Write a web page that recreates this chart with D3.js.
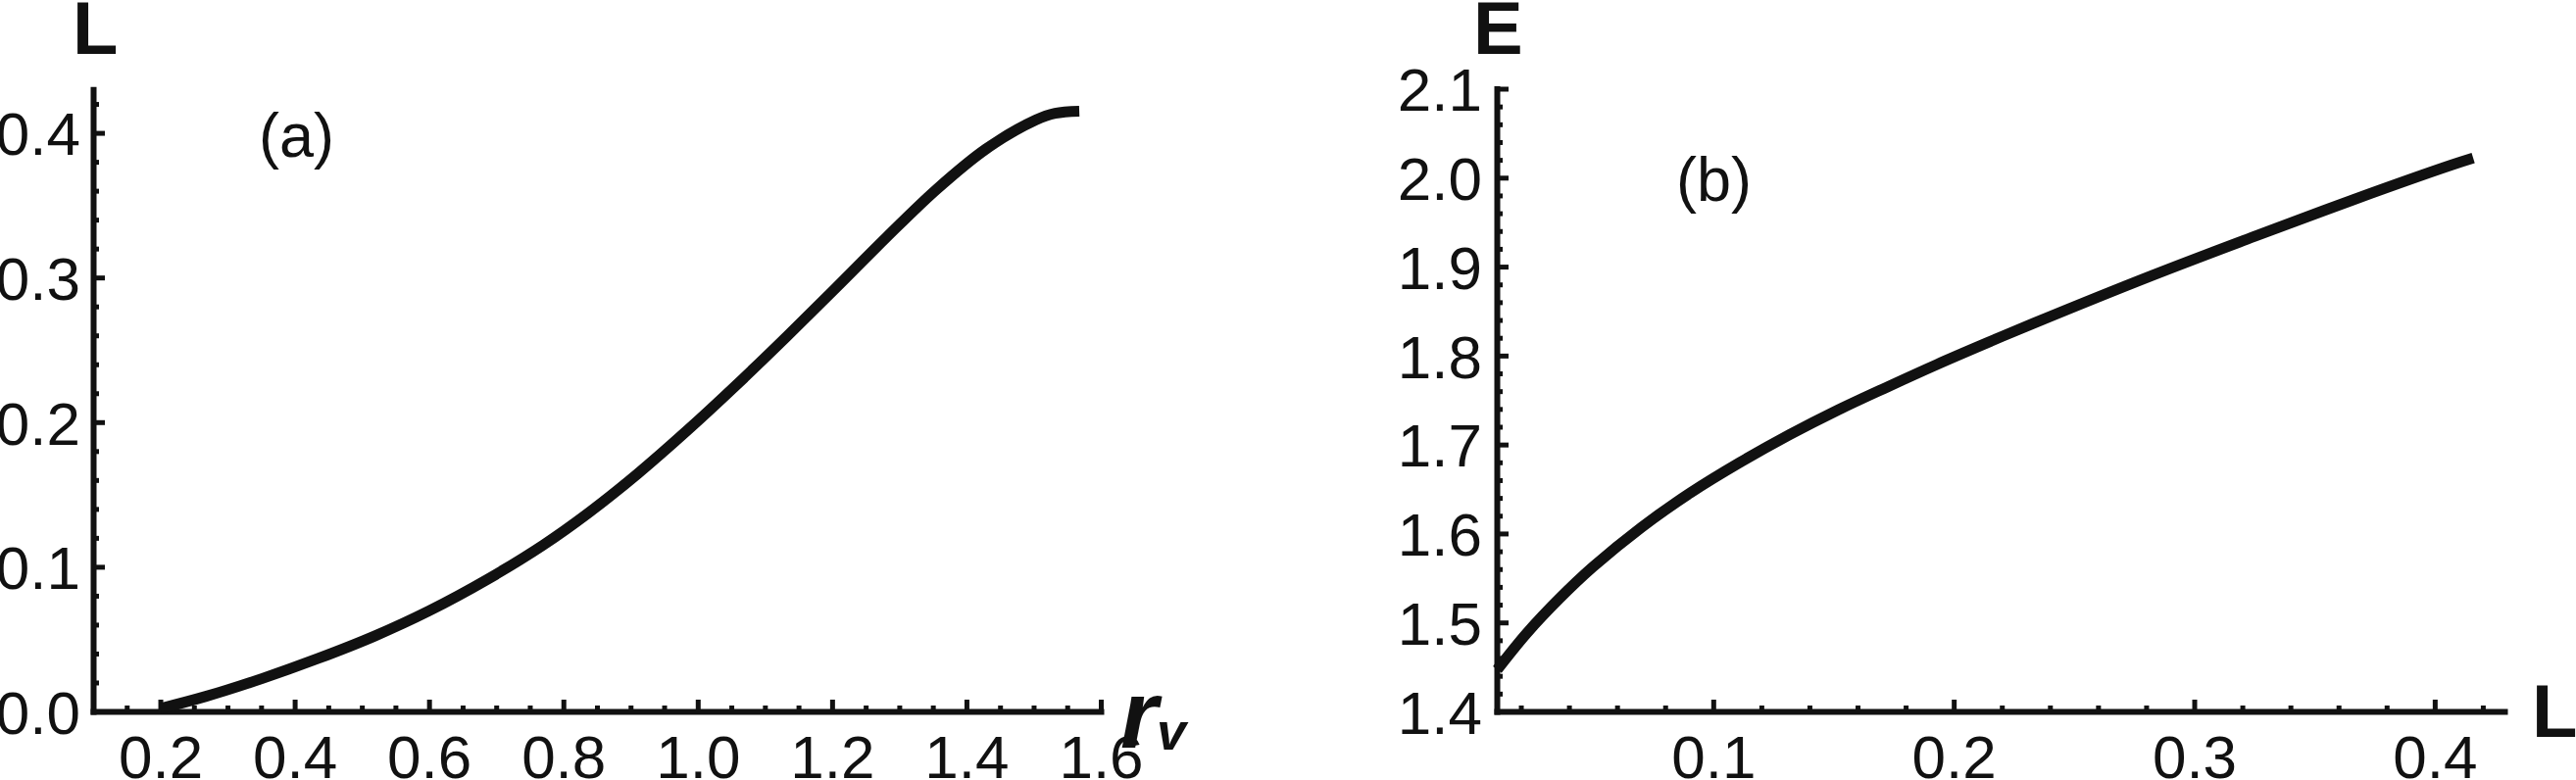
<!DOCTYPE html>
<html><head><meta charset="utf-8">
<script src="https://cdn.jsdelivr.net/npm/d3@7"></script>
<style>body{margin:0;background:#fff}svg{display:block;background:#fff}</style>
</head><body><svg id="c" width="2628" height="796"></svg>
<script>
// ---- Panel (a): L vs r_v ----
const rvA = [0.2, 0.268, 0.352, 0.435, 0.519, 0.6, 0.687, 0.770, 0.837, 0.911, 0.985, 1.059, 1.133, 1.207, 1.281, 1.355, 1.429, 1.503, 1.532, 1.568];
const LA  = [0.002, 0.0104, 0.0228, 0.0366, 0.0521, 0.0695, 0.0913, 0.1150, 0.1371, 0.1645, 0.1945, 0.2263, 0.2594, 0.2934, 0.3278, 0.3607, 0.3888, 0.4088, 0.4135, 0.415];
const xMajorA = [0.2, 0.4, 0.6, 0.8, 1.0, 1.2, 1.4, 1.6];
const xMinorA = [0.15, 0.25, 0.3, 0.35, 0.45, 0.5, 0.55, 0.65, 0.7, 0.75, 0.85, 0.9, 0.95, 1.05, 1.1, 1.15, 1.25, 1.3, 1.35, 1.45, 1.5, 1.55];
const yMajorA = [0.0, 0.1, 0.2, 0.3, 0.4];
const yMinorA = [0.02, 0.04, 0.06, 0.08, 0.12, 0.14, 0.16, 0.18, 0.22, 0.24, 0.26, 0.28, 0.32, 0.34, 0.36, 0.38, 0.42];

// ---- Panel (b): E vs L ----
const LB = [0.0102, 0.0225, 0.0361, 0.0498, 0.0702, 0.0907, 0.1112, 0.1317, 0.152, 0.1726, 0.193, 0.2136, 0.233, 0.2825, 0.3252, 0.366, 0.4068, 0.416];
const EB = [1.447, 1.488, 1.527, 1.562, 1.607, 1.646, 1.680, 1.711, 1.739, 1.765, 1.790, 1.814, 1.836, 1.890, 1.934, 1.975, 2.014, 2.022];
const xMajorB = [0.1, 0.2, 0.3, 0.4];
const xMinorB = [0.02, 0.04, 0.06, 0.08, 0.12, 0.14, 0.16, 0.18, 0.22, 0.24, 0.26, 0.28, 0.32, 0.34, 0.36, 0.38, 0.42];
const yMajorB = [1.4, 1.5, 1.6, 1.7, 1.8, 1.9, 2.0, 2.1];
const yMinorB = [1.42,1.44,1.46,1.48,1.52,1.54,1.56,1.58,1.62,1.64,1.66,1.68,1.72,1.74,1.76,1.78,1.82,1.84,1.86,1.88,1.92,1.94,1.96,1.98,2.02,2.04,2.06,2.08];

const INK = "#111";
const FONT = "'Liberation Sans', Arial, sans-serif";
const svg = d3.select("#c");
const fmt = d3.format(".1f");

function styleAxis(g, domainW) {
  g.select(".domain").attr("stroke", INK).attr("stroke-width", domainW).attr("stroke-linecap", "square");
  g.selectAll(".tick line").attr("stroke", INK).attr("stroke-width", 5);
  g.selectAll(".tick text").attr("fill", INK).style("font-family", FONT).style("font-size", "62px");
}

function panel(cfg) {
  const x = d3.scaleLinear().domain(cfg.xDom).range(cfg.xRange);
  const y = d3.scaleLinear().domain(cfg.yDom).range(cfg.yRange);
  const y0 = cfg.yRange[0], x0 = cfg.xRange[0];

  const gxm = svg.append("g").attr("transform", `translate(0,${y0})`)
    .call(d3.axisBottom(x).tickValues(cfg.xMinor).tickSizeInner(-6).tickSizeOuter(0).tickFormat(""));
  gxm.select(".domain").remove();
  gxm.selectAll(".tick line").attr("stroke", INK).attr("stroke-width", 5);
  const gym = svg.append("g").attr("transform", `translate(${x0},0)`)
    .call(d3.axisLeft(y).tickValues(cfg.yMinor).tickSizeInner(-6).tickSizeOuter(0).tickFormat(""));
  gym.select(".domain").remove();
  gym.selectAll(".tick line").attr("stroke", INK).attr("stroke-width", 5);

  const gx = svg.append("g").attr("transform", `translate(0,${y0})`)
    .call(d3.axisBottom(x).tickValues(cfg.xMajor).tickSizeInner(-12).tickSizeOuter(0).tickPadding(24).tickFormat(fmt));
  styleAxis(gx, 6);
  const gy = svg.append("g").attr("transform", `translate(${x0},0)`)
    .call(d3.axisLeft(y).tickValues(cfg.yMajor).tickSizeInner(-12).tickSizeOuter(0).tickPadding(cfg.yPad).tickFormat(fmt));
  styleAxis(gy, 6);
  gy.selectAll(".tick text").attr("dy", "0.36em");

  const line = d3.line().x(d => x(d[0])).y(d => y(d[1])).curve(d3.curveCatmullRom.alpha(0.5));
  svg.append("path").datum(d3.zip(cfg.xs, cfg.ys))
    .attr("d", line).attr("fill", "none").attr("stroke", INK)
    .attr("stroke-width", 11).attr("stroke-linecap", "butt").attr("stroke-linejoin", "round");
}

panel({
  xDom: [0.1, 1.6], xRange: [95, 1123],
  yDom: [0, 0.43], yRange: [726, 91.3],
  xMajor: xMajorA, xMinor: xMinorA, yMajor: yMajorA, yMinor: yMinorA,
  yPad: 13, xs: rvA, ys: LA
});
panel({
  xDom: [0.01, 0.429], xRange: [1527, 2555],
  yDom: [1.4, 2.1], yRange: [726, 90.5],
  xMajor: xMajorB, xMinor: xMinorB, yMajor: yMajorB, yMinor: yMinorB,
  yPad: 15, xs: LB, ys: EB
});

function txt(s, x, y, size, weight, style) {
  svg.append("text").attr("x", x).attr("y", y).text(s)
    .attr("fill", INK).style("font-family", FONT).style("font-size", size + "px")
    .style("font-weight", weight || "normal").style("font-style", style || "normal");
}
txt("L", 74, 55, 76, "bold");
txt("(a)", 264, 160, 63);
txt("r", 1143, 763, 98, "bold", "italic");
txt("v", 1180, 765, 54, "bold", "italic");
txt("E", 1503, 55, 76, "bold");
txt("(b)", 1710, 205, 63);
txt("L", 2583, 752, 76, "bold");
</script>
</body></html>
